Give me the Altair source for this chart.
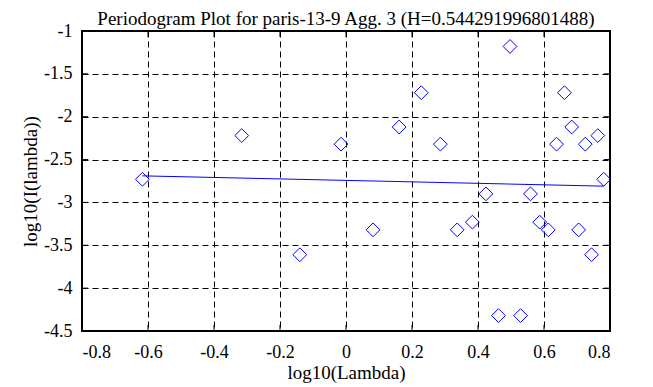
import altair as alt
import pandas as pd

# ---- data ----
log_lambda = [-0.617, -0.316, -0.140, -0.015, 0.082, 0.161, 0.228, 0.286, 0.337,
              0.383, 0.424, 0.462, 0.497, 0.529, 0.559, 0.587, 0.613, 0.638,
              0.662, 0.684, 0.705, 0.725, 0.744, 0.763, 0.781]
log_I = [-2.73, -2.22, -3.61, -2.32, -3.32, -2.12, -1.72, -2.32, -3.32,
         -3.23, -2.90, -4.32, -1.18, -4.32, -2.90, -3.23, -3.32, -2.32,
         -1.72, -2.12, -3.32, -2.32, -3.61, -2.22, -2.73]
fit_x = [-0.617, 0.781]
fit_y = [-2.69, -2.81]
x_ticks = [-0.8, -0.6, -0.4, -0.2, 0, 0.2, 0.4, 0.6, 0.8]
y_ticks = [-4.5, -4, -3.5, -3, -2.5, -2, -1.5, -1]

FONT = "Liberation Serif"
TL_X = 0.019   # inward tick length in x units
TL_Y = 0.07    # inward tick length in y units

pts = pd.DataFrame({"x": log_lambda, "y": log_I})
fit = pd.DataFrame({"x": fit_x, "y": fit_y})

segs = []
for t in x_ticks[1:-1]:
    segs.append({"x": t, "x2": t, "y": -4.5, "y2": -4.5 + TL_Y})
    segs.append({"x": t, "x2": t, "y": -1, "y2": -1 - TL_Y})
for t in y_ticks[1:-1]:
    segs.append({"x": -0.8, "x2": -0.8 + TL_X, "y": t, "y2": t})
    segs.append({"x": 0.8, "x2": 0.8 - TL_X, "y": t, "y2": t})
ticks = pd.DataFrame(segs)

xs = alt.Scale(domain=[-0.8, 0.8], nice=False, zero=False)
ys = alt.Scale(domain=[-4.5, -1], nice=False, zero=False)

xaxis = alt.Axis(values=x_ticks, title="log10(Lambda)", labelPadding=12, titlePadding=2)
yaxis = alt.Axis(values=y_ticks, title="log10(I(lambda))", labelPadding=10, titlePadding=3)

tick_layer = alt.Chart(ticks).mark_rule(color="black", strokeWidth=1).encode(
    x=alt.X("x:Q", scale=xs, axis=xaxis), x2="x2:Q",
    y=alt.Y("y:Q", scale=ys, axis=yaxis), y2="y2:Q")

line_layer = alt.Chart(fit).mark_line(color="#0000ff", strokeWidth=1).encode(
    x=alt.X("x:Q", scale=xs, axis=xaxis), y=alt.Y("y:Q", scale=ys, axis=yaxis))

pt_layer = alt.Chart(pts).mark_point(shape="diamond", filled=False, color="#0000ff",
                                     size=190, strokeWidth=1, opacity=1).encode(
    x=alt.X("x:Q", scale=xs, axis=xaxis), y=alt.Y("y:Q", scale=ys, axis=yaxis))

chart = alt.layer(tick_layer, line_layer, pt_layer).properties(
    width=528, height=300,
    title=alt.TitleParams(text="Periodogram Plot for paris-13-9 Agg. 3 (H=0.544291996801488)",
                          font=FONT, fontSize=19, fontWeight="normal", color="black",
                          anchor="middle", offset=-7),
    autosize=alt.AutoSizeParams(type="none"),
    padding={"left": 74, "top": 23, "right": 35, "bottom": 56},
).configure(background="white").configure_view(
    stroke="black", strokeWidth=2
).configure_axis(
    grid=True, gridDash=[6, 4], gridColor="black", gridOpacity=1, gridWidth=1,
    ticks=False, domain=False, labelExpr="'' + datum.value",
    labelFontSize=18, titleFontSize=19, labelFont=FONT, titleFont=FONT,
    titleFontWeight="normal", labelColor="black", titleColor="black",
)

chart.save("out.html", embed_options={"renderer": "svg", "actions": False})
